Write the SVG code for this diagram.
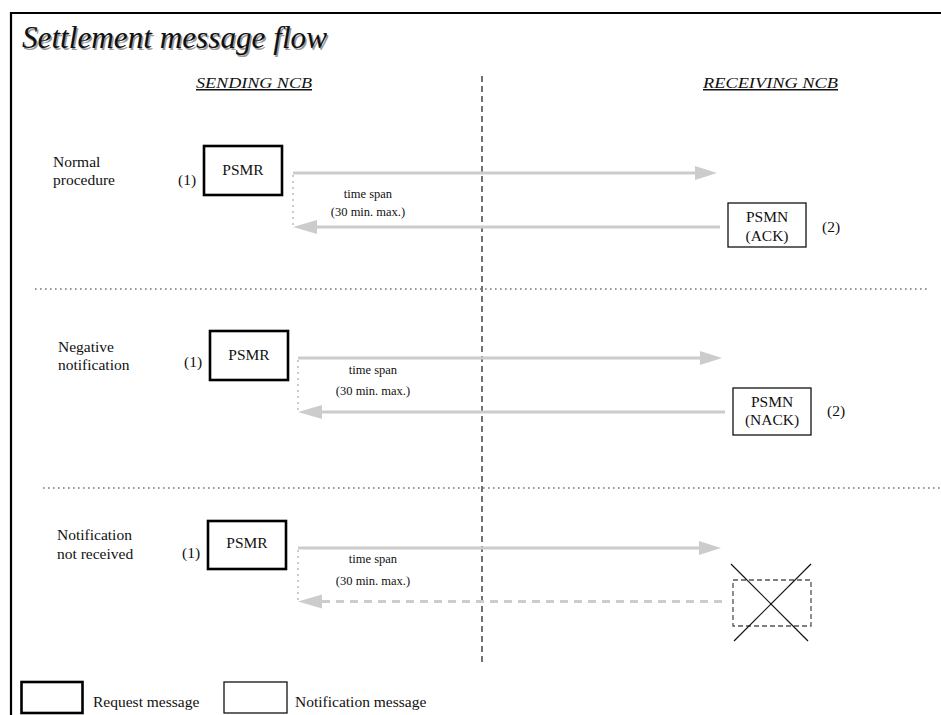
<svg xmlns="http://www.w3.org/2000/svg" width="941" height="715" viewBox="0 0 941 715">
<defs>
<style>
text{font-family:'Liberation Serif','Times New Roman','DejaVu Serif',serif;fill:#111}
.lbl{font-size:15.5px}
.sm{font-size:12.5px}
.hdr{font-size:15px;font-style:italic;text-decoration:underline}
.ttl{font-size:31px;font-style:italic}
.req{fill:#fff;stroke:#000;stroke-width:2.6}
.ntf{fill:#fff;stroke:#111;stroke-width:1.3}
.arr{stroke:#cccccc;stroke-width:3;fill:none}
.dash{stroke-dasharray:8 6}
.vdot{stroke:#cccccc;stroke-width:2;stroke-dasharray:2 4;fill:none}
.sep{stroke:#777;stroke-width:1.4;stroke-dasharray:1.6 3.4;fill:none}
.head{fill:#cccccc}
</style>
</defs>
<rect width="941" height="715" fill="#fff"/>
<path d="M11,715 V13 H941" fill="none" stroke="#000" stroke-width="2.2"/>
<g font-family="Liberation Serif, Times New Roman, serif">
<g id="title">
<text class="ttl" x="23.5" y="49.5" textLength="305" lengthAdjust="spacingAndGlyphs" style="fill:#999">Settlement message flow</text>
<text class="ttl" x="22" y="48" textLength="305" lengthAdjust="spacingAndGlyphs">Settlement message flow</text>
</g>
<g id="headers">
<text class="hdr" x="196" y="88" textLength="116" lengthAdjust="spacingAndGlyphs">SENDING NCB</text>
<text class="hdr" x="703" y="88" textLength="135" lengthAdjust="spacingAndGlyphs">RECEIVING NCB</text>
</g>
<g id="dividers">
<line x1="482" y1="76" x2="482" y2="666" stroke="#000" stroke-width="1.1" stroke-dasharray="6 4"/>
<line class="sep" x1="35" y1="289" x2="928" y2="289"/>
<line class="sep" x1="43" y1="488" x2="941" y2="488"/>
</g>
<g id="label-normal">
<text class="lbl" x="53" y="167">Normal</text>
<text class="lbl" x="53" y="185">procedure</text>
</g>
<g id="label-negative">
<text class="lbl" x="58" y="352">Negative</text>
<text class="lbl" x="58" y="370">notification</text>
</g>
<g id="label-notreceived">
<text class="lbl" x="57" y="540">Notification</text>
<text class="lbl" x="57" y="559">not received</text>
</g>
<g id="psmr-1">
<text class="lbl" x="178" y="185">(1)</text>
<rect class="req" x="204" y="146" width="78" height="49"/>
<text class="lbl" x="243" y="175" text-anchor="middle">PSMR</text>
</g>
<g id="psmn-ack">
<rect class="ntf" x="728" y="203" width="78" height="44"/>
<text class="lbl" x="767" y="222" text-anchor="middle">PSMN</text>
<text class="lbl" x="767" y="241" text-anchor="middle">(ACK)</text>
<text class="lbl" x="822" y="232">(2)</text>
</g>
<g id="psmr-2">
<text class="lbl" x="184" y="367">(1)</text>
<rect class="req" x="210" y="331" width="78" height="49"/>
<text class="lbl" x="249" y="360" text-anchor="middle">PSMR</text>
</g>
<g id="psmn-nack">
<rect class="ntf" x="733" y="388" width="78" height="47"/>
<text class="lbl" x="772" y="407" text-anchor="middle">PSMN</text>
<text class="lbl" x="772" y="425" text-anchor="middle">(NACK)</text>
<text class="lbl" x="827" y="416">(2)</text>
</g>
<g id="psmr-3">
<text class="lbl" x="182" y="558">(1)</text>
<rect class="req" x="208" y="521" width="78" height="48"/>
<text class="lbl" x="247" y="548" text-anchor="middle">PSMR</text>
</g>
<g id="psmn-lost">
<rect x="733" y="580" width="78" height="46" fill="none" stroke="#555" stroke-width="1.3" stroke-dasharray="5 3"/>
<line x1="731" y1="564" x2="808" y2="641" stroke="#111" stroke-width="1.2"/>
<line x1="811" y1="564" x2="734" y2="641" stroke="#111" stroke-width="1.2"/>
</g>
<g id="connectors">
<line class="arr" x1="293" y1="173" x2="697" y2="173"/>
<polygon class="head" points="695,166 717,173 695,180"/>
<line class="vdot" x1="293" y1="175" x2="293" y2="225"/>
<line class="arr" x1="720" y1="227" x2="313" y2="227"/>
<polygon class="head" points="317,220 293,227 317,234"/>
<text class="sm" x="368" y="198" text-anchor="middle">time span</text>
<text class="sm" x="368" y="216" text-anchor="middle">(30 min. max.)</text>
<line class="arr" x1="298" y1="358" x2="702" y2="358"/>
<polygon class="head" points="700,351 722,358 700,365"/>
<line class="vdot" x1="298" y1="360" x2="298" y2="410"/>
<line class="arr" x1="725" y1="412" x2="318" y2="412"/>
<polygon class="head" points="322,405 298,412 322,419"/>
<text class="sm" x="373" y="374" text-anchor="middle">time span</text>
<text class="sm" x="373" y="395" text-anchor="middle">(30 min. max.)</text>
<line class="arr" x1="298" y1="548" x2="701" y2="548"/>
<polygon class="head" points="699,541 721,548 699,555"/>
<line class="vdot" x1="298" y1="550" x2="298" y2="600"/>
<line class="arr dash" x1="722" y1="601.5" x2="318" y2="601.5"/>
<polygon class="head" points="322,594.5 298,601.5 322,608.5"/>
<text class="sm" x="373" y="563" text-anchor="middle">time span</text>
<text class="sm" x="373" y="585" text-anchor="middle">(30 min. max.)</text>
</g>
<g id="legend">
<rect class="req" x="21.5" y="682" width="61" height="31"/>
<text class="lbl" x="93" y="707">Request message</text>
<rect class="ntf" x="224" y="682" width="63" height="31"/>
<text class="lbl" x="295" y="707">Notification message</text>
</g>
</g>
</svg>
